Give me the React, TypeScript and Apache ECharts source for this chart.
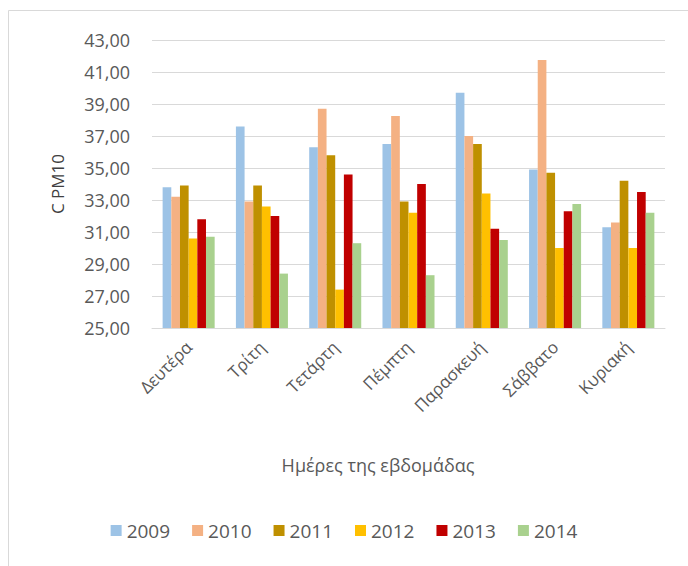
import React, { useEffect, useRef } from "react";
import * as echarts from "echarts";

const categories = ["Δευτέρα", "Τρίτη", "Τετάρτη", "Πέμπτη", "Παρασκευή", "Σάββατο", "Κυριακή"];
const years = ["2009", "2010", "2011", "2012", "2013", "2014"];
const v2009 = [33.8, 37.6, 36.3, 36.5, 39.7, 34.9, 31.3];
const v2010 = [33.2, 32.9, 38.7, 38.25, 37.0, 41.75, 31.6];
const v2011 = [33.9, 33.9, 35.8, 32.9, 36.5, 34.7, 34.2];
const v2012 = [30.6, 32.6, 27.4, 32.2, 33.4, 30.0, 30.0];
const v2013 = [31.8, 32.0, 34.6, 34.0, 31.2, 32.3, 33.5];
const v2014 = [30.7, 28.4, 30.3, 28.3, 30.5, 32.75, 32.2];
const seriesValues = [v2009, v2010, v2011, v2012, v2013, v2014];
const colors = ["#9DC3E6", "#F4B183", "#BF9000", "#FFC000", "#C00000", "#A9D18E"];
const xTitle = "Ημέρες της εβδομάδας";
const yTitle = "C PM10";

export default function App() {
  const ref = useRef<HTMLDivElement>(null);
  useEffect(() => {
    if (!ref.current) return;
    const chart = echarts.init(ref.current, null, { renderer: "svg" });
    const font = "'Open Sans', 'Noto Sans', sans-serif";
    chart.setOption({
      animation: false,
      textStyle: { fontFamily: font },
      graphic: [
        {
          type: "rect",
          shape: { x: 8.5, y: 10.5, width: 700, height: 600 },
          style: { fill: "none", stroke: "#d9d9d9", lineWidth: 1 },
          silent: true,
        },
        {
          type: "text",
          x: 378,
          y: 465,
          style: {
            text: xTitle,
            fontSize: 18,
            fill: "#595959",
            fontFamily: font,
            align: "center",
            verticalAlign: "middle",
          },
          silent: true,
        },
      ],
      grid: { left: 152, right: 23, top: 40, bottom: 238 },
      legend: {
        bottom: 21,
        left: "center",
        itemWidth: 11,
        itemHeight: 11,
        itemGap: 22,
        icon: "rect",
        textStyle: { fontSize: 19, color: "#595959", fontFamily: font },
        data: years,
      },
      xAxis: {
        type: "category",
        data: categories,
        axisLine: { lineStyle: { color: "#d9d9d9", width: 1 } },
        axisTick: { show: false },
        axisLabel: { rotate: 45, fontSize: 17, color: "#595959", margin: 16, interval: 0 },
      },
      yAxis: {
        type: "value",
        min: 25,
        max: 43,
        interval: 2,
        axisLine: { show: false },
        axisTick: { show: false },
        splitLine: { lineStyle: { color: "#d9d9d9" } },
        axisLabel: {
          fontSize: 18,
          color: "#595959",
          margin: 22,
          formatter: (v: number) => v.toFixed(2).replace(".", ","),
        },
        name: yTitle,
        nameLocation: "middle",
        nameGap: 86,
        nameRotate: 90,
        nameTextStyle: { fontSize: 17, color: "#404040" },
      },
      series: years.map((y, i) => ({
        name: y,
        type: "bar",
        data: seriesValues[i],
        itemStyle: { color: colors[i] },
        barGap: "0%",
        barCategoryGap: "29%",
      })),
    });
    return () => chart.dispose();
  }, []);
  return (
    <div
      ref={ref}
      style={{ position: "fixed", left: 0, top: 0, width: 688, height: 566, background: "#fff" }}
    />
  );
}
